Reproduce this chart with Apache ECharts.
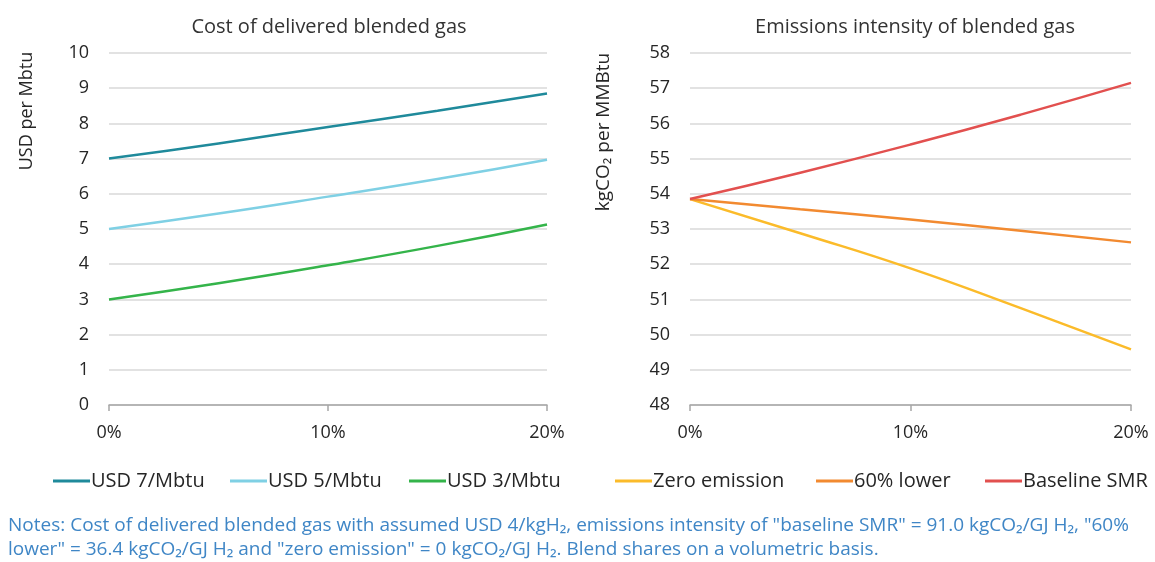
<!DOCTYPE html>
<html><head><meta charset="utf-8">
<script src="https://cdn.jsdelivr.net/npm/echarts@6/dist/echarts.min.js"></script>
<style>html,body{margin:0;padding:0;background:#fff}#c{width:1155px;height:562px}</style>
</head><body><div id="c"></div>
<script>
// Blend share of hydrogen (volumetric)
const shares = [0, 0.05, 0.10, 0.15, 0.20];
const xTicks = ['0%', '10%', '20%'];

// Cost of delivered blended gas (USD per Mbtu)
const usd7 = [7.00, 7.43, 7.90, 8.36, 8.85];
const usd5 = [5.00, 5.44, 5.92, 6.42, 6.97];
const usd3 = [3.00, 3.46, 3.97, 4.52, 5.13];

// Emissions intensity of blended gas (kgCO2 per MMBtu)
const zeroEmission = [53.85, 52.88, 51.88, 50.75, 49.58];
const lower60 = [53.85, 53.56, 53.27, 52.95, 52.62];
const baselineSMR = [53.85, 54.60, 55.40, 56.25, 57.15];

const seriesNames = ['USD 7/Mbtu', 'USD 5/Mbtu', 'USD 3/Mbtu', 'Zero emission', '60% lower', 'Baseline SMR'];
const colors = ['#1f8a9b', '#7fd0e4', '#34b44a', '#fbbb2a', '#f28a30', '#e2504f'];

const titles = ['Cost of delivered blended gas', 'Emissions intensity of blended gas'];
const yNames = ['USD per Mbtu', 'kgCO\u2082 per MMBtu'];
const notes = [
  'Notes: Cost of delivered blended gas with assumed USD 4/kgH\u2082, emissions intensity of "baseline SMR" = 91.0 kgCO\u2082/GJ H\u2082, "60%',
  'lower" = 36.4 kgCO\u2082/GJ H\u2082 and "zero emission" = 0 kgCO\u2082/GJ H\u2082. Blend shares on a volumetric basis.'
];

const FONT = 'Open Sans';
const pair = arr => shares.map((s, i) => [s, arr[i]]);
const allData = [usd7, usd5, usd3, zeroEmission, lower60, baselineSMR];

const chart = echarts.init(document.getElementById('c'), null, {renderer: 'canvas'});

function xAxis(gi) {
  return {
    type: 'value', gridIndex: gi, min: 0, max: 0.2, interval: 0.1,
    axisLine: {show: true, lineStyle: {color: '#a6a6a6', width: 1.5}},
    axisTick: {show: true, length: 6, lineStyle: {color: '#a6a6a6', width: 1.5}},
    splitLine: {show: false},
    axisLabel: {
      margin: 19, color: '#262626', fontSize: 18, fontFamily: FONT,
      formatter: v => xTicks[Math.round(v * 10)]
    }
  };
}
function yAxis(gi, min, max) {
  return {
    type: 'value', gridIndex: gi, min: min, max: max, interval: 1,
    axisLine: {show: false}, axisTick: {show: false},
    splitLine: {show: true, lineStyle: {color: '#d9d9d9', width: 1.5}},
    axisLabel: {margin: 20, color: '#262626', fontSize: 18, fontFamily: FONT}
  };
}

const legendLefts = [48, 225, 404, 610, 811, 980];

const option = {
  animation: false,
  textStyle: {fontFamily: FONT},
  grid: [
    {left: 109, top: 53, width: 438, height: 352},
    {left: 690, top: 53, width: 441, height: 352}
  ],
  xAxis: [xAxis(0), xAxis(1)],
  yAxis: [yAxis(0, 0, 10), yAxis(1, 48, 58)],
  title: [
    {text: titles[0], left: 324, top: 12, textAlign: 'center',
     textStyle: {fontSize: 20, fontWeight: 'normal', color: '#333', fontFamily: FONT}},
    {text: titles[1], left: 910, top: 12, textAlign: 'center',
     textStyle: {fontSize: 20, fontWeight: 'normal', color: '#333', fontFamily: FONT}}
  ],
  legend: seriesNames.map((n, i) => ({
    data: [n], left: legendLefts[i], top: 466,
    icon: 'rect', itemWidth: 37, itemHeight: 3, itemGap: 0,
    textStyle: {fontSize: 20, color: '#262626', fontFamily: FONT, padding: [0, 0, 0, -4]}
  })),
  graphic: [
    {type: 'text', x: 27, y: 111, rotation: Math.PI / 2,
     style: {text: yNames[0], fontSize: 18, fill: '#262626', fontFamily: FONT, align: 'center', verticalAlign: 'middle'}},
    {type: 'text', x: 604, y: 132, rotation: Math.PI / 2,
     style: {text: yNames[1], fontSize: 19, fill: '#262626', fontFamily: FONT, align: 'center', verticalAlign: 'middle'}},
    {type: 'text', x: 8, y: 516,
     style: {text: notes[0], fontSize: 19, fill: '#3f86c6', fontFamily: FONT}},
    {type: 'text', x: 8, y: 540,
     style: {text: notes[1], fontSize: 19, fill: '#3f86c6', fontFamily: FONT}}
  ],
  series: allData.map((d, i) => ({
    name: seriesNames[i], type: 'line', smooth: true, showSymbol: false,
    xAxisIndex: i < 3 ? 0 : 1, yAxisIndex: i < 3 ? 0 : 1,
    data: pair(d), lineStyle: {color: colors[i], width: 2.5}, itemStyle: {color: colors[i]}
  }))
};
chart.setOption(option);
</script></body></html>
